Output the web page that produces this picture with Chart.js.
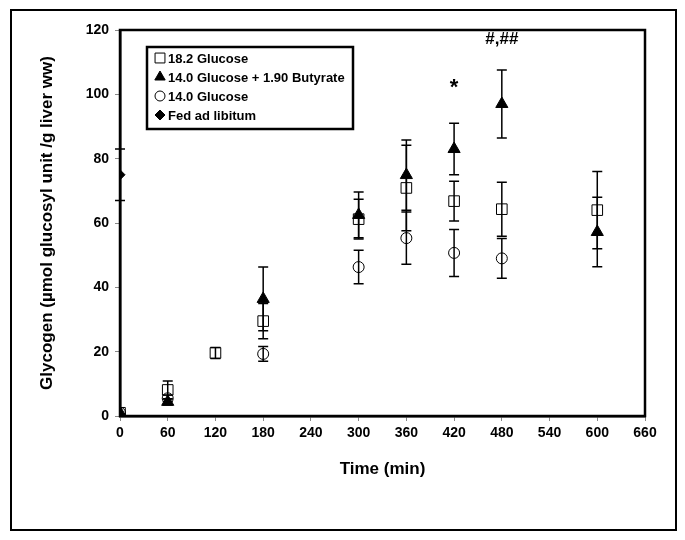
<!DOCTYPE html>
<html lang="en">
<head>
    <meta charset="UTF-8">
    <title>Glycogen vs time</title>
    <script src="https://cdn.jsdelivr.net/npm/chart.js"></script>
    <style>
        body { margin: 0; background: #fff; }
    </style>
</head>
<body>
    <canvas id="chart" width="685" height="540"></canvas>

    <script>
        // values
        const timesA = [0, 60, 120, 180, 300, 360, 420, 480, 600];
        const glucose182 = [1, 8.1, 19.6, 29.5, 61.2, 70.9, 66.8, 64.3, 64];
        const glucose182Err = [0, 2.8, 1.7, 5.5, 6.2, 13.3, 6.2, 8.4, 12];

        const timesB = [0, 60, 180, 300, 360, 420, 480, 600];
        const butyrate = [1, 4.4, 36.4, 62.5, 74.9, 83, 97, 57.2];
        const butyrateErr = [0, 1, 9.9, 7.1, 10.9, 8, 10.6, 10.8];

        const timesC = [0, 60, 180, 300, 360, 420, 480];
        const glucose140 = [1, 5.5, 19.3, 46.3, 55.3, 50.7, 49];
        const glucose140Err = [0, 1, 2.3, 5.2, 8.1, 7.3, 6.2];

        const timesD = [0];
        const fed = [75];
        const fedErr = [8];

        const xTicks = [0, 60, 120, 180, 240, 300, 360, 420, 480, 540, 600, 660];
        const notes = [
            { x: 420, y: 102, text: '*', size: 22 },
            { x: 480, y: 117, text: '#,##', size: 17 }
        ];

        function pts(xs, ys) {
            return xs.map((x, i) => ({ x, y: ys[i] }));
        }

        const errorBars = {
            id: 'errorBars',
            afterDatasetsDraw(chart) {
                const ctx = chart.ctx;
                const ys = chart.scales.y;
                ctx.save();
                ctx.strokeStyle = '#000';
                ctx.lineWidth = 1.5;
                chart.data.datasets.forEach((ds, di) => {
                    const meta = chart.getDatasetMeta(di);
                    meta.data.forEach((el, i) => {
                        const e = ds.err[i];
                        if (!e) return;
                        const v = ds.data[i].y;
                        const top = ys.getPixelForValue(v + e);
                        const bot = ys.getPixelForValue(v - e);
                        ctx.beginPath();
                        ctx.moveTo(el.x, top); ctx.lineTo(el.x, bot);
                        ctx.moveTo(el.x - 5, top); ctx.lineTo(el.x + 5, top);
                        ctx.moveTo(el.x - 5, bot); ctx.lineTo(el.x + 5, bot);
                        ctx.stroke();
                    });
                });
                ctx.restore();
            }
        };

        const decor = {
            id: 'decor',
            afterDraw(chart) {
                const ctx = chart.ctx;
                const a = chart.chartArea;
                ctx.save();
                ctx.strokeStyle = '#000';
                // outer frame
                ctx.lineWidth = 2;
                ctx.strokeRect(11, 10, 665, 520);
                // plot box
                ctx.lineWidth = 2.5;
                ctx.strokeRect(a.left, a.top, a.right - a.left, a.bottom - a.top);

                // notes
                ctx.fillStyle = '#000';
                ctx.textAlign = 'center';
                ctx.textBaseline = 'middle';
                notes.forEach(n => {
                    ctx.font = 'bold ' + n.size + 'px "Liberation Sans", Arial, sans-serif';
                    ctx.fillText(n.text, chart.scales.x.getPixelForValue(n.x), chart.scales.y.getPixelForValue(n.y));
                });

                // legend
                ctx.lineWidth = 2.5;
                ctx.strokeRect(147, 47, 206, 82);
                ctx.font = 'bold 13px "Liberation Sans", Arial, sans-serif';
                ctx.textAlign = 'left';
                chart.data.datasets.forEach((ds, i) => {
                    const y = 58 + i * 19;
                    ctx.lineWidth = 1;
                    ctx.strokeStyle = '#000';
                    ctx.fillStyle = ds.backgroundColor === 'transparent' ? 'rgba(0,0,0,0)' : '#000';
                    Chart.helpers.drawPoint(ctx, {
                        pointStyle: ds.pointStyle,
                        radius: ds.legendRadius,
                        rotation: 0,
                        borderWidth: 1
                    }, 160, y);
                    ctx.fillStyle = '#000';
                    ctx.fillText(ds.label, 168, y + 1);
                });
                ctx.restore();
            }
        };

        new Chart(document.getElementById('chart'), {
            type: 'scatter',
            data: {
                datasets: [
                    {
                        label: '18.2 Glucose',
                        data: pts(timesA, glucose182),
                        err: glucose182Err,
                        pointStyle: 'rect',
                        pointRadius: 7.5,
                        legendRadius: 7,
                        backgroundColor: 'transparent',
                        borderColor: '#000',
                        borderWidth: 1
                    },
                    {
                        label: '14.0 Glucose + 1.90 Butyrate',
                        data: pts(timesB, butyrate),
                        err: butyrateErr,
                        pointStyle: 'triangle',
                        pointRadius: 7,
                        legendRadius: 6,
                        backgroundColor: '#000',
                        borderColor: '#000',
                        borderWidth: 1
                    },
                    {
                        label: '14.0 Glucose',
                        data: pts(timesC, glucose140),
                        err: glucose140Err,
                        pointStyle: 'circle',
                        pointRadius: 5.5,
                        legendRadius: 5,
                        backgroundColor: 'transparent',
                        borderColor: '#000',
                        borderWidth: 1
                    },
                    {
                        label: 'Fed ad libitum',
                        data: pts(timesD, fed),
                        err: fedErr,
                        pointStyle: 'rectRot',
                        pointRadius: 5,
                        legendRadius: 5,
                        backgroundColor: '#000',
                        borderColor: '#000',
                        borderWidth: 1
                    }
                ]
            },
            options: {
                responsive: false,
                animation: false,
                layout: { padding: { left: 20, top: 30, right: 40, bottom: 60 } },
                plugins: {
                    legend: { display: false },
                    tooltip: { enabled: false }
                },
                scales: {
                    x: {
                        type: 'linear',
                        min: 0,
                        max: 660,
                        afterBuildTicks: s => { s.ticks = xTicks.map(v => ({ value: v })); },
                        afterFit: s => { s.height = 64; },
                        grid: { drawOnChartArea: false, color: '#888', tickLength: 5 },
                        border: { color: '#000', width: 2.5 },
                        ticks: { color: '#000', font: { family: '"Liberation Sans", Arial', size: 14, weight: 'bold' }, padding: 4, maxRotation: 0 },
                        title: {
                            display: true,
                            text: 'Time (min)',
                            color: '#000',
                            font: { family: '"Liberation Sans", Arial', size: 17, weight: 'bold' },
                            padding: { top: 0, bottom: 0 }
                        }
                    },
                    y: {
                        min: 0,
                        max: 120,
                        afterFit: s => { s.width = 100; },
                        grid: { drawOnChartArea: false, color: '#888', tickLength: 5 },
                        border: { color: '#000', width: 2.5 },
                        ticks: { stepSize: 20, color: '#000', font: { family: '"Liberation Sans", Arial', size: 14, weight: 'bold' }, padding: 6 },
                        title: {
                            display: true,
                            text: 'Glycogen (µmol glucosyl unit /g liver ww)',
                            color: '#000',
                            font: { family: '"Liberation Sans", Arial', size: 17, weight: 'bold' },
                            padding: { top: 17, bottom: 0 }
                        }
                    }
                }
            },
            plugins: [errorBars, decor]
        });
    </script>
</body>
</html>
